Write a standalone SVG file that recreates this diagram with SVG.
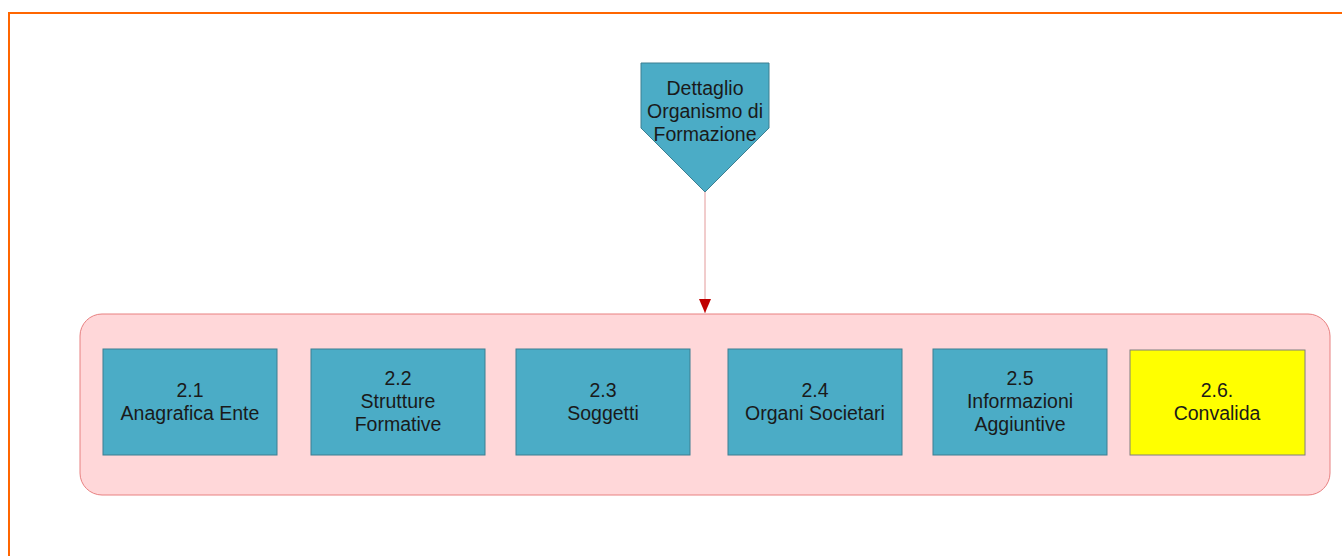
<svg xmlns="http://www.w3.org/2000/svg" width="1342" height="556" viewBox="0 0 1342 556">
<defs>
<style>
.t{font-family:"Liberation Sans",Arial,sans-serif;font-size:19.5px;fill:#1a1a1a;text-anchor:middle}
.b{fill:#4bacc6;stroke:#3d7f91;stroke-width:1}
.y{fill:#ffff00;stroke:#7f7f7f;stroke-width:1}
</style>
<marker id="ah" markerWidth="14" markerHeight="12" refX="14" refY="6" orient="auto" markerUnits="userSpaceOnUse">
<path d="M0,0 L14,6 L0,12 Z" fill="#c00000"/>
</marker>
</defs>
<rect width="1342" height="556" fill="#ffffff"/>
<rect x="9" y="13" width="1345" height="560" fill="none" stroke="#ff6600" stroke-width="2"/>
<g id="container">
<rect x="80" y="314" width="1250" height="181" rx="22" ry="22" fill="#ffd7d9" stroke="#e88080" stroke-width="1"/>
</g>
<g id="connectors">
<line x1="705" y1="192" x2="705" y2="313" stroke="#e39a9a" stroke-width="1" marker-end="url(#ah)"/>
</g>
<g id="n0">
<path d="M641,63 L769,63 L769,128 L705,192 L641,128 Z" class="b"/>
<text class="t" x="705" y="95">Dettaglio</text>
<text class="t" x="705" y="118">Organismo di</text>
<text class="t" x="705" y="141">Formazione</text>
</g>
<g id="n1">
<rect x="103" y="349" width="174" height="106" class="b"/>
<text class="t" x="190" y="397">2.1</text>
<text class="t" x="190" y="420">Anagrafica Ente</text>
</g>
<g id="n2">
<rect x="311" y="349" width="174" height="106" class="b"/>
<text class="t" x="398" y="385">2.2</text>
<text class="t" x="398" y="408">Strutture</text>
<text class="t" x="398" y="431">Formative</text>
</g>
<g id="n3">
<rect x="516" y="349" width="174" height="106" class="b"/>
<text class="t" x="603" y="397">2.3</text>
<text class="t" x="603" y="420">Soggetti</text>
</g>
<g id="n4">
<rect x="728" y="349" width="174" height="106" class="b"/>
<text class="t" x="815" y="397">2.4</text>
<text class="t" x="815" y="420">Organi Societari</text>
</g>
<g id="n5">
<rect x="933" y="349" width="174" height="106" class="b"/>
<text class="t" x="1020" y="385">2.5</text>
<text class="t" x="1020" y="408">Informazioni</text>
<text class="t" x="1020" y="431">Aggiuntive</text>
</g>
<g id="n6">
<rect x="1130" y="350" width="175" height="105" class="y"/>
<text class="t" x="1217" y="397">2.6.</text>
<text class="t" x="1217" y="420">Convalida</text>
</g>
</svg>
